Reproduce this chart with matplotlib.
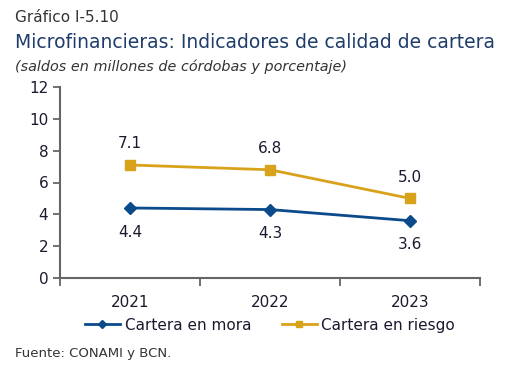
import matplotlib.pyplot as plt
import numpy as np

anios = ["2021", "2022", "2023"]
mora = [4.4, 4.3, 3.6]
riesgo = [7.1, 6.8, 5.0]

azul = "#0b4a8b"
oro = "#d9a21b"
texto = "#1a1a2e"

fig = plt.figure(figsize=(5.09, 3.72), dpi=100)
ax = fig.add_axes([60 / 509, 1 - 278 / 372, 420 / 509, 191 / 372])

x = np.arange(len(anios))
ax.plot(x, mora, color=azul, lw=2, marker="D", ms=6.5, label="Cartera en mora")
ax.plot(x, riesgo, color=oro, lw=2, marker="s", ms=6.5, label="Cartera en riesgo")

for xi, v in zip(x, riesgo):
    ax.annotate(f"{v:.1f}", (xi, v), xytext=(0, 10), textcoords="offset points",
                ha="center", va="bottom", fontsize=11, color=texto)
for xi, v in zip(x, mora):
    ax.annotate(f"{v:.1f}", (xi, v), xytext=(0, -12), textcoords="offset points",
                ha="center", va="top", fontsize=11, color=texto)

ax.set_xlim(-0.5, len(anios) - 0.5)
ax.set_ylim(0, 12)
ax.set_yticks(range(0, 13, 2))
ax.set_xticks(np.arange(-0.5, len(anios), 1.0))
ax.set_xticklabels([])
ax.set_xticks(x, minor=True)
ax.set_xticklabels(anios, minor=True)
ax.tick_params(axis="x", which="minor", length=0, pad=12, labelsize=11, labelcolor=texto)
ax.tick_params(axis="x", which="major", length=6, color="#666666", width=1.3)
ax.tick_params(axis="y", length=5, color="#666666", width=1.3, labelsize=11, labelcolor=texto)
for s in ["top", "right"]:
    ax.spines[s].set_visible(False)
for s in ["left", "bottom"]:
    ax.spines[s].set_color("#666666")
    ax.spines[s].set_linewidth(1.5)

ax.legend(loc="upper center", bbox_to_anchor=(0.5, -0.175), ncol=2, frameon=False,
          fontsize=11, handlelength=2.3, handletextpad=0.3, columnspacing=2.0,
          borderaxespad=0, labelcolor=texto, markerscale=0.6)

fig.text(15 / 509, 1 - 17 / 372, "Gráfico I-5.10", fontsize=11, color="#333333", va="center")
fig.text(15 / 509, 1 - 43 / 372, "Microfinancieras: Indicadores de calidad de cartera",
         fontsize=13.5, color="#1f3d6b", va="center", fontweight="medium")
fig.text(15 / 509, 1 - 67 / 372, "(saldos en millones de córdobas y porcentaje)",
         fontsize=10.4, color="#333333", va="center", style="italic")
fig.text(15 / 509, 1 - 353 / 372, "Fuente: CONAMI y BCN.", fontsize=9.5, color="#333333", va="center")

fig.savefig("out.png", dpi=100)
